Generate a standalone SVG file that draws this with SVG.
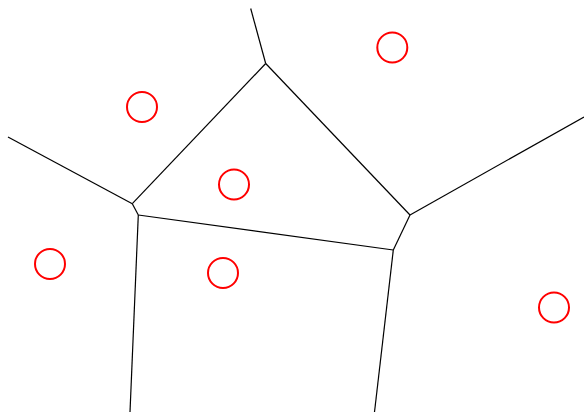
<svg xmlns="http://www.w3.org/2000/svg" width="584" height="412" viewBox="0 0 584 412">
<style>
.e{stroke:#000;stroke-width:1.2;fill:none}
.s{stroke:#f00;stroke-width:2;fill:none}
</style>
<rect width="584" height="412" fill="#fff"/>
<g id="edges">
<line class="e" x1="250.7" y1="8.5" x2="265.7" y2="63.5"/>
<line class="e" x1="265.7" y1="63.5" x2="132.3" y2="203.7"/>
<line class="e" x1="265.7" y1="63.5" x2="410" y2="215"/>
<line class="e" x1="8" y1="137" x2="132.3" y2="203.7"/>
<line class="e" x1="132.3" y1="203.7" x2="138.3" y2="215"/>
<line class="e" x1="138.3" y1="215" x2="393.3" y2="250"/>
<line class="e" x1="138.3" y1="215" x2="130" y2="412"/>
<line class="e" x1="410" y1="215" x2="393.3" y2="250"/>
<line class="e" x1="410" y1="215" x2="584" y2="117"/>
<line class="e" x1="393.3" y1="250" x2="374.5" y2="412"/>
</g>
<g id="site1"><circle class="s" cx="142" cy="107" r="15"/></g>
<g id="site2"><circle class="s" cx="234" cy="184.5" r="15"/></g>
<g id="site3"><circle class="s" cx="392.3" cy="47.5" r="15"/></g>
<g id="site4"><circle class="s" cx="50" cy="264" r="15"/></g>
<g id="site5"><circle class="s" cx="223" cy="273" r="15"/></g>
<g id="site6"><circle class="s" cx="554" cy="307.5" r="15"/></g>
</svg>
